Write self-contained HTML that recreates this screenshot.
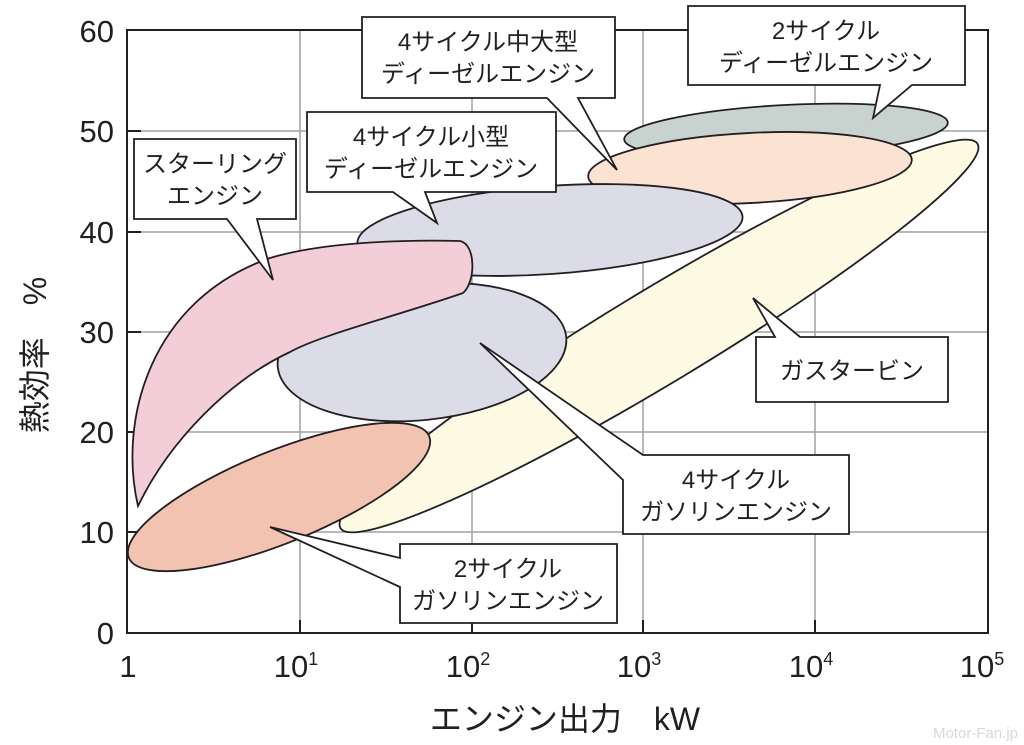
<!DOCTYPE html>
<html><head><meta charset="utf-8"><style>
html,body{margin:0;padding:0;background:#fff;}
svg{display:block;}
text{font-family:"Liberation Sans","Noto Sans CJK JP",sans-serif;fill:#231f20;}
</style></head><body>
<svg width="1024" height="745" viewBox="0 0 1024 745" xmlns="http://www.w3.org/2000/svg">
<g stroke="#a0a0a0" stroke-width="1.5">
<line x1="300" y1="30" x2="300" y2="633"/><line x1="472" y1="30" x2="472" y2="633"/>
<line x1="643" y1="30" x2="643" y2="633"/><line x1="815" y1="30" x2="815" y2="633"/>
<line x1="127" y1="131" x2="988" y2="131"/><line x1="127" y1="232" x2="988" y2="232"/>
<line x1="127" y1="332" x2="988" y2="332"/><line x1="127" y1="432" x2="988" y2="432"/>
<line x1="127" y1="532" x2="988" y2="532"/>
</g>
<rect x="127" y="30" width="861" height="603" fill="none" stroke="#231f20" stroke-width="2"/>
<g stroke="#231f20" stroke-width="2">
<line x1="127" y1="131" x2="141" y2="131"/><line x1="127" y1="232" x2="141" y2="232"/>
<line x1="127" y1="332" x2="141" y2="332"/><line x1="127" y1="432" x2="141" y2="432"/>
<line x1="127" y1="532" x2="141" y2="532"/>
<line x1="300" y1="633" x2="300" y2="620"/><line x1="472" y1="633" x2="472" y2="620"/>
<line x1="643" y1="633" x2="643" y2="620"/><line x1="815" y1="633" x2="815" y2="620"/>
</g>
<g stroke="#231f20" stroke-width="1.8">
<ellipse cx="659" cy="336" rx="372" ry="47" transform="rotate(-31.1 659 336)" fill="#fdfbe3"/>
<ellipse cx="786" cy="131" rx="162" ry="26" transform="rotate(-3 786 131)" fill="#c8d3d0"/>
<ellipse cx="750" cy="168" rx="162" ry="35" transform="rotate(-3 750 168)" fill="#fbe2d3"/>
<ellipse cx="550" cy="230" rx="193" ry="44" transform="rotate(-4 550 230)" fill="#dcdbe8"/>
<ellipse cx="422" cy="352" rx="145" ry="68" transform="rotate(-6 422 352)" fill="#dcdbe8"/>
<path d="M138,506 C118,420 150,300 270,258 C330,240 420,240 460,241 C476,244 476,282 463,293 C400,315 320,335 290,352 C230,380 170,440 138,506 Z" fill="#f3cdd8"/>
<ellipse cx="279" cy="497" rx="162" ry="46" transform="rotate(-22 279 497)" fill="#f3c3b1"/>
</g>
<g fill="#fff" stroke="#231f20" stroke-width="1.8">
<path d="M134,139 H296 V219 H257 L273,280 L227,219 H134 Z"/>
<path d="M307,112 H556 V192 H425 L437,223 L393,192 H307 Z"/>
<path d="M362,17 H615 V98 H578 L617,170 L547,98 H362 Z"/>
<path d="M688,6 H965 V85 H912 L873,118 L880,85 H688 Z"/>
<path d="M756,337 H775 L753,298 L800,337 H948 V402 H756 Z"/>
<path d="M623,534 V480 L480,343 L643,455 H849 V534 Z"/>
<path d="M400,544 H617 V623 H400 V587 L270,527 L400,558 Z"/>
</g>
<g font-size="24" text-anchor="middle">
<text x="215" y="172">スターリング</text><text x="215" y="204">エンジン</text>
<text x="431" y="145">4サイクル小型</text><text x="431" y="177">ディーゼルエンジン</text>
<text x="488" y="50">4サイクル中大型</text><text x="488" y="82">ディーゼルエンジン</text>
<text x="826" y="39">2サイクル</text><text x="826" y="71">ディーゼルエンジン</text>
<text x="852" y="379">ガスタービン</text>
<text x="736" y="488">4サイクル</text><text x="736" y="520">ガソリンエンジン</text>
<text x="508" y="577">2サイクル</text><text x="508" y="609">ガソリンエンジン</text>
</g>
<g font-size="31" text-anchor="end">
<text x="114" y="42">60</text><text x="114" y="142">50</text><text x="114" y="243">40</text>
<text x="114" y="343">30</text><text x="114" y="443">20</text><text x="114" y="543">10</text>
<text x="114" y="644">0</text>
</g>
<g font-size="31" text-anchor="middle">
<text x="128" y="677">1</text>
<text x="296" y="677">10<tspan font-size="18" dy="-12">1</tspan></text>
<text x="468" y="677">10<tspan font-size="18" dy="-12">2</tspan></text>
<text x="639" y="677">10<tspan font-size="18" dy="-12">3</tspan></text>
<text x="811" y="677">10<tspan font-size="18" dy="-12">4</tspan></text>
<text x="982" y="677">10<tspan font-size="18" dy="-12">5</tspan></text>
</g>
<text x="565" y="730" font-size="32" text-anchor="middle">エンジン出力　kW</text>
<text transform="translate(46,355) rotate(-90)" font-size="32" text-anchor="middle">熱効率　%</text>
<text x="1018" y="738" font-size="15" text-anchor="end" style="fill:#d8d8d8">Motor-Fan.jp</text>
</svg>
</body></html>
